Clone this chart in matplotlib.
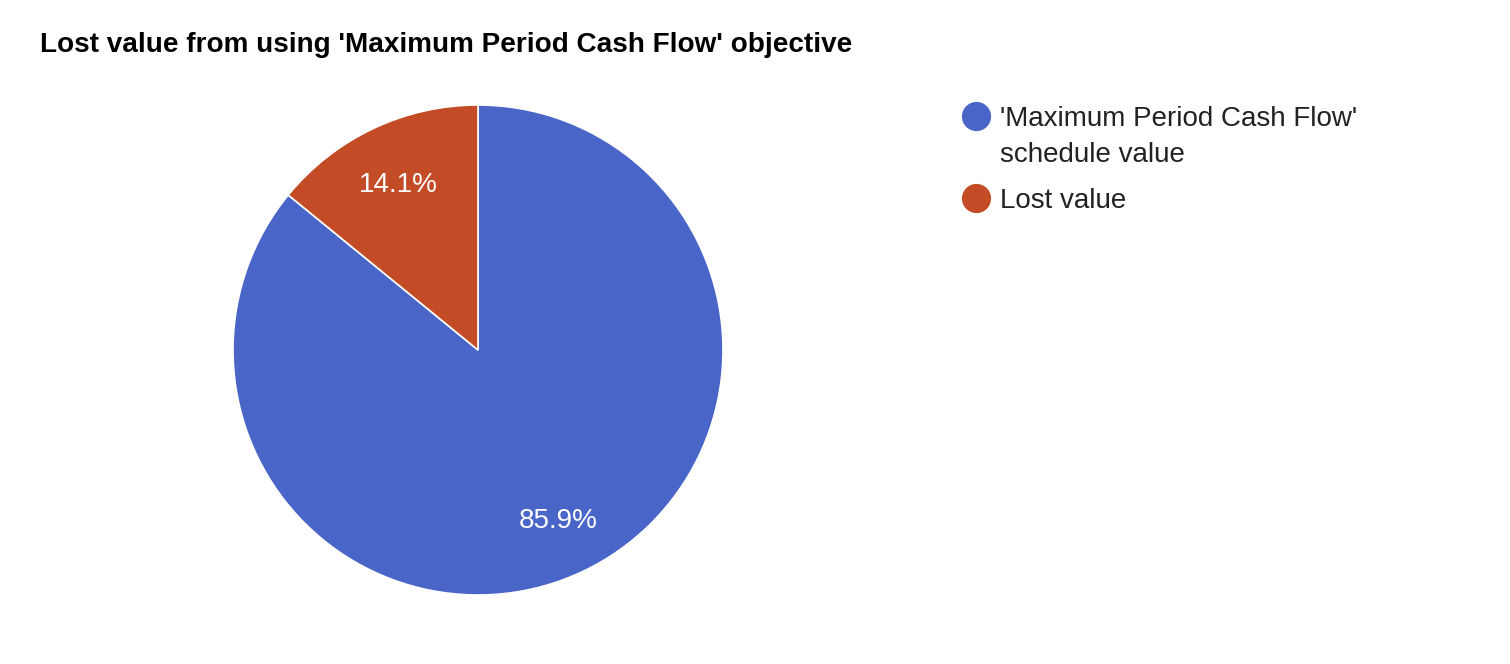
import matplotlib.pyplot as plt
from matplotlib.lines import Line2D

# chart data
labels = ["'Maximum Period Cash Flow'\nschedule value", "Lost value"]
shares = [85.9, 14.1]
colors = ["#4A65C8", "#C34C27"]
title = "Lost value from using 'Maximum Period Cash Flow' objective"

W, H = 1510, 664
fig = plt.figure(figsize=(W / 100, H / 100), dpi=100)
fig.patch.set_facecolor('white')

# pie axes placed so the circle sits where the reference has it
ax = fig.add_axes([233 / W, 69 / H, 490 / W, 490 / H])
wedges, texts, autotexts = ax.pie(
    shares, colors=colors, startangle=90, counterclock=False,
    autopct='%.1f%%', pctdistance=0.76, radius=1.0,
    wedgeprops=dict(edgecolor='white', linewidth=1.2),
    textprops=dict(color='white', fontsize=20, family='Liberation Sans'))
for t in autotexts:
    t.set_va('center_baseline')
ax.set_xlim(-1, 1)
ax.set_ylim(-1, 1)
ax.set_aspect('equal')
ax.axis('off')

fig.text(40 / W, 1 - 52 / H, title, fontsize=20.1, fontweight='bold',
         family='Liberation Sans', va='baseline', ha='left', color='black')

# legend drawn by hand so the dot lines up with the first text line
y = 126          # baseline of first legend line, px from top
line_gap = 35.5
entry_gap = 47
for lab, c in zip(labels, colors):
    fig.add_artist(Line2D([975.5 / W], [1 - (y - 10.5) / H], marker='o',
                          markersize=20, markerfacecolor=c,
                          markeredgecolor=c, linestyle='none',
                          transform=fig.transFigure))
    lines = lab.split('\n')
    for i, part in enumerate(lines):
        fig.text(1000 / W, 1 - y / H, part, fontsize=20,
                 family='Liberation Sans', color='#222222',
                 va='baseline', ha='left')
        if i < len(lines) - 1:
            y += line_gap
    y += entry_gap

fig.savefig('out.png', dpi=100)
